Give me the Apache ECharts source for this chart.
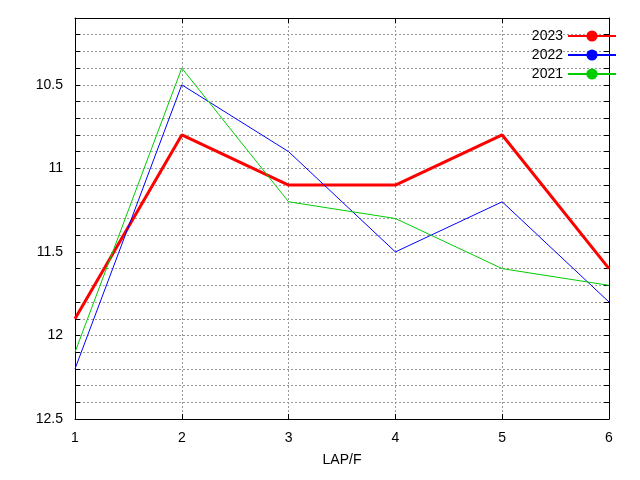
<!DOCTYPE html>
<html><head><meta charset="utf-8">
<script src="https://cdn.jsdelivr.net/npm/echarts@6/dist/echarts.min.js"></script>
<style>html,body{margin:0;padding:0;background:#fff}#c{width:640px;height:480px}</style>
</head><body><div id="c"></div>
<script>
const laps = [1, 2, 3, 4, 5, 6];
const s2023 = [11.9, 10.8, 11.1, 11.1, 10.8, 11.6];
const s2022 = [12.2, 10.5, 10.9, 11.5, 11.2, 11.8];
const s2021 = [12.1, 10.4, 11.2, 11.3, 11.6, 11.7];
const pair = a => laps.map((x, i) => [x, a[i]]);
const chart = echarts.init(document.getElementById('c'));
const font = {fontFamily: 'Liberation Sans, Arial, sans-serif', fontSize: 14, color: '#000'};
const blackLine = {lineStyle: {color: '#000'}};
chart.setOption({
  animation: false,
  grid: {left: 75, right: 31, top: 18, bottom: 61},
  legend: {
    orient: 'vertical', right: 18, top: 24, align: 'right', itemGap: 5,
    itemWidth: 48, itemHeight: 14, textStyle: font,
    data: ['2023', '2022', '2021']
  },
  xAxis: [{
    type: 'value', min: 1, max: 6, interval: 1, name: 'LAP/F',
    nameLocation: 'middle', nameGap: 34, nameTextStyle: font,
    axisLine: blackLine,
    axisTick: {inside: true, lineStyle: {color: '#000'}},
    axisLabel: Object.assign({margin: 12}, font),
    splitLine: {lineStyle: {color: '#999', type: [2, 2]}}
  }, {
    type: 'value', min: 1, max: 6, interval: 1, position: 'top',
    axisLine: {show: true, lineStyle: {color: '#000'}},
    axisTick: {inside: true, lineStyle: {color: '#000'}},
    axisLabel: {show: false}, splitLine: {show: false}
  }],
  yAxis: [{
    type: 'value', inverse: true, min: 10.1, max: 12.5, interval: 0.1,
    axisLine: {show: true, lineStyle: {color: '#000'}},
    axisTick: {inside: true, lineStyle: {color: '#000'}},
    axisLabel: Object.assign({margin: 12, formatter: v => {
      const r = Math.round(v * 10);
      return r % 5 === 0 ? String(r / 10) : '';
    }}, font),
    splitLine: {lineStyle: {color: '#999', type: [2, 2]}}
  }, {
    type: 'value', inverse: true, min: 10.1, max: 12.5, interval: 0.1, position: 'right',
    axisLine: {show: true, lineStyle: {color: '#000'}},
    axisTick: {inside: true, lineStyle: {color: '#000'}},
    axisLabel: {show: false}, splitLine: {show: false}
  }],
  series: [
    {name: '2023', type: 'line', data: pair(s2023), symbol: 'none', lineStyle: {color: '#ff0000', width: 3}, itemStyle: {color: '#ff0000'}},
    {name: '2022', type: 'line', data: pair(s2022), symbol: 'none', lineStyle: {color: '#0000ff', width: 1}, itemStyle: {color: '#0000ff'}},
    {name: '2021', type: 'line', data: pair(s2021), symbol: 'none', lineStyle: {color: '#00cc00', width: 1}, itemStyle: {color: '#00cc00'}}
  ]
});
</script></body></html>
